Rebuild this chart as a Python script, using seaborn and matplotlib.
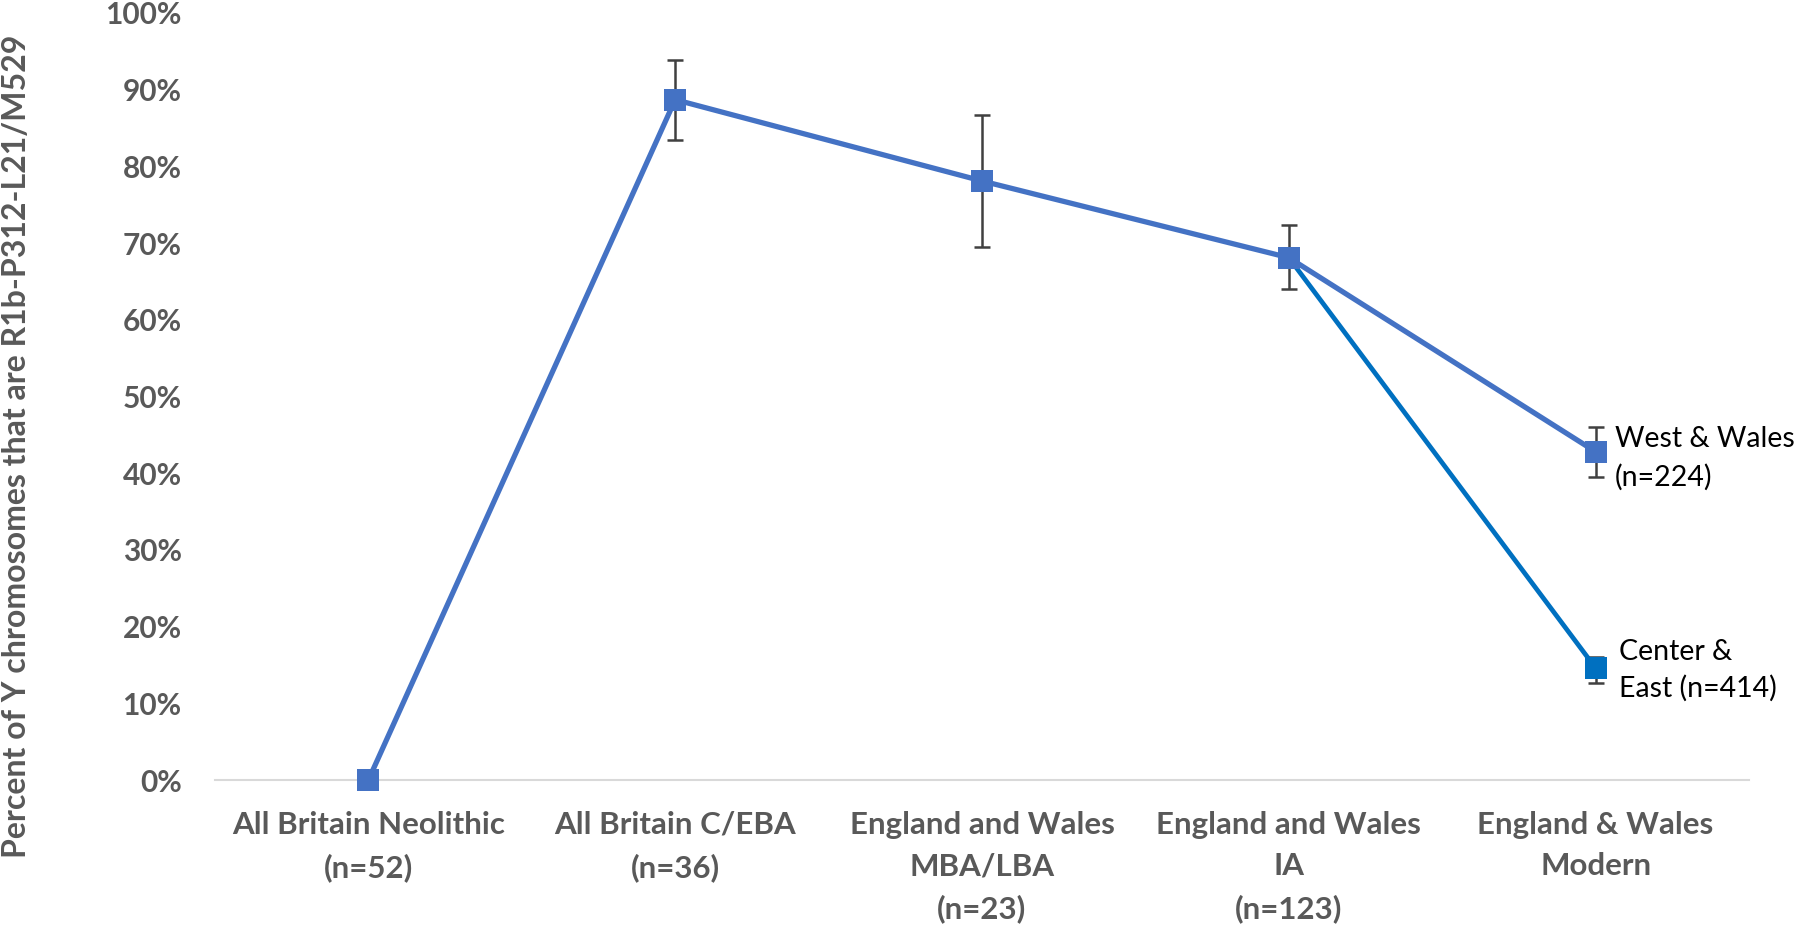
import numpy as np
import pandas as pd
import matplotlib
matplotlib.use("Agg")
import matplotlib.pyplot as plt
import seaborn as sns
from matplotlib.ticker import PercentFormatter

# -----------------------------------------
#  R1b-P312-L21/M529 share over time in Britain
# -----------------------------------------

categories = [
    "All Britain Neolithic\n(n=52)",
    "All Britain C/EBA\n(n=36)",
    "England and Wales\nMBA/LBA\n(n=23)",
    "England and Wales\nIA\n(n=123)",
    "England & Wales\nModern",
]

# main series (ends at West & Wales)
west_pos = [0, 1, 2, 3, 4]
west_pct = [0.0, 88.7, 78.1, 68.1, 42.8]
west_lo = [0.0, 83.4, 69.5, 64.0, 39.5]
west_hi = [0.0, 93.9, 86.7, 72.4, 46.0]

# branch series (IA -> Center & East)
east_pos = [3, 4]
east_pct = [68.1, 14.6]
east_lo = [68.1, 12.6]
east_hi = [68.1, 16.0]

series_names = ["West & Wales\n(n=224)", "Center &\nEast (n=414)"]
colors = ["#4472C4", "#0070C0"]

df = pd.concat([
    pd.DataFrame({"pos": west_pos, "pct": np.array(west_pct) / 100, "series": "west"}),
    pd.DataFrame({"pos": east_pos, "pct": np.array(east_pct) / 100, "series": "east"}),
])

sns.set_style("white")
plt.rcParams["font.family"] = ["Lato", "DejaVu Sans"]

fig = plt.figure(figsize=(18, 9.27), dpi=100)
ax = fig.add_axes([215 / 1800, 1 - 780 / 927, 1534 / 1800, 767 / 927])

# branch first so the main line sits on top at IA
sns.lineplot(data=df[df.series == "east"], x="pos", y="pct", color=colors[1],
             linewidth=3.4, marker="s", markersize=16, markeredgewidth=0,
             ax=ax, zorder=3, clip_on=False)
sns.lineplot(data=df[df.series == "west"], x="pos", y="pct", color=colors[0],
             linewidth=3.8, marker="s", markersize=16.5, markeredgewidth=0,
             ax=ax, zorder=4, clip_on=False)

# error bars (behind the markers)
for pos, val, lo, hi in [(west_pos, west_pct, west_lo, west_hi),
                         (east_pos, east_pct, east_lo, east_hi)]:
    val = np.array(val) / 100
    yerr = [val - np.array(lo) / 100, np.array(hi) / 100 - val]
    mask = (yerr[0] + yerr[1]) > 0
    ax.errorbar(np.array(pos)[mask], val[mask],
                yerr=[yerr[0][mask], yerr[1][mask]], fmt="none",
                ecolor="#404040", elinewidth=1.8, capsize=6, capthick=1.8,
                zorder=2)

ax.annotate(series_names[0], xy=(west_pos[-1], west_pct[-1] / 100),
            xytext=(14, -5), textcoords="offset points", ha="left", va="center",
            fontsize=20.5, color="black", linespacing=1.55)
ax.annotate(series_names[1], xy=(east_pos[-1], east_pct[-1] / 100),
            xytext=(17, -2), textcoords="offset points", ha="left", va="center",
            fontsize=20.5, color="black", linespacing=1.45)

ax.set_xlim(-0.5, 4.5)
ax.set_ylim(0, 1)
ax.set_xticks(range(len(categories)))
ax.set_xticklabels(categories, fontsize=22.5, fontweight="bold", color="#595959",
                   linespacing=1.6)
ax.set_yticks(np.arange(0, 1.01, 0.1))
ax.yaxis.set_major_formatter(PercentFormatter(1.0, decimals=0))
for lab in ax.get_yticklabels():
    lab.set_fontsize(21.5)
    lab.set_fontweight("bold")
    lab.set_color("#595959")
ax.tick_params(axis="both", length=0)
ax.tick_params(axis="y", pad=24)
ax.tick_params(axis="x", pad=22)

ax.set_xlabel("")
ax.set_ylabel("")
fig.text(17 / 1800, 1 - 446 / 927,
         "Percent of Y chromosomes that are R1b-P312-L21/M529",
         rotation=90, ha="center", va="center",
         fontsize=23, fontweight="bold", color="#595959")

for side in ["top", "right", "left"]:
    ax.spines[side].set_visible(False)
ax.spines["bottom"].set_color("#D9D9D9")
ax.spines["bottom"].set_linewidth(1.5)
ax.spines["bottom"].set_zorder(1)
ax.grid(False)

fig.savefig("out.png", dpi=100)
